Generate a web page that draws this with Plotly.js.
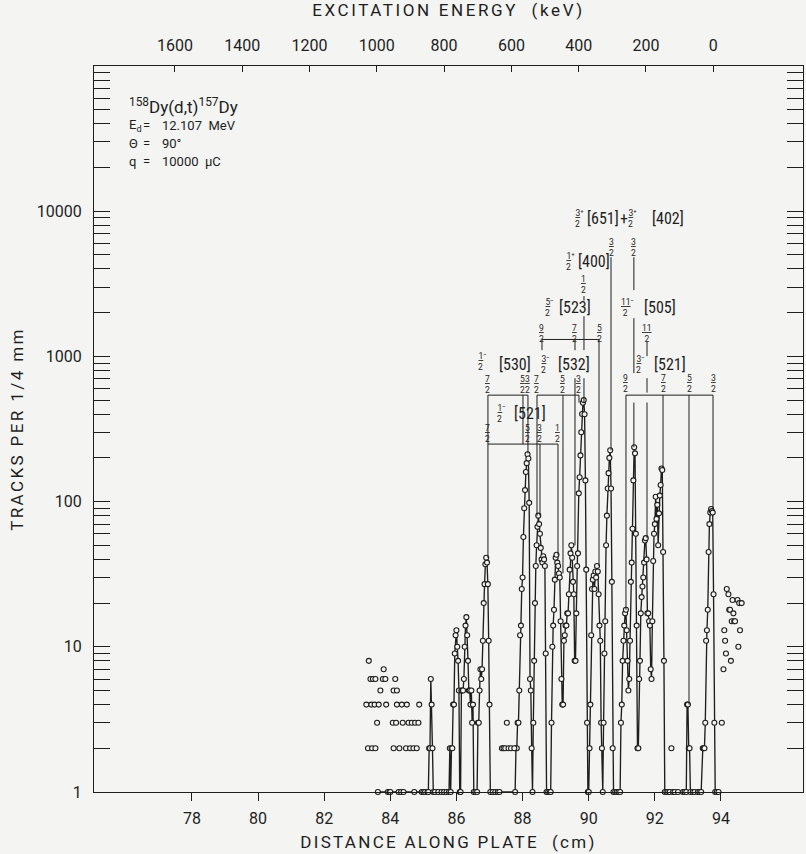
<!DOCTYPE html>
<html><head><meta charset="utf-8">
<script src="https://cdn.plot.ly/plotly-3.0.1.min.js"></script>
<style>html,body{margin:0;padding:0;background:#f4f4f2;} #chart{width:806px;height:854px;}</style>
</head><body><div id="chart"></div>
<script>
// ---------- DATA ----------
// main spectrum (channels joined by lines), distance along plate in cm / tracks per 1/4 mm
const plateCm = [
 83.625,83.925,83.975,84.0,84.25,84.325,84.4,84.725,84.95,85.0,85.05,85.125,
 85.15,85.175,85.2,85.225,85.25,85.275,85.3,
 85.35,85.45,85.55,85.625,85.7,85.775,
 85.8,85.825,85.85,85.875,85.9,85.925,85.95,85.975,86.0,86.025,86.05,86.075,86.1,86.125,
 86.15,86.175,86.2,86.225,86.25,86.275,86.3,86.325,86.35,86.375,86.4,86.425,86.45,86.475,86.5,86.525,
 86.575,86.625,
 86.65,86.675,86.7,86.725,86.75,86.775,86.8,86.825,86.85,86.875,86.9,86.925,86.95,86.975,87.0,87.025,
 87.1,87.175,87.25,87.3,87.775,
 87.8,87.825,87.85,87.875,87.9,87.925,87.95,87.975,88.0,88.025,88.05,88.075,88.1,88.125,88.15,88.175,88.2,88.225,88.25,88.275,
 88.3,88.325,88.35,88.375,88.4,88.425,88.45,88.475,88.5,88.525,88.55,88.575,88.6,88.625,88.65,88.675,88.7,88.725,
 88.775,88.825,
 88.85,88.875,88.9,88.925,88.95,88.975,89.0,89.025,89.05,89.075,89.1,89.125,89.15,89.175,89.2,89.225,
 89.25,89.275,89.3,89.325,89.35,89.375,89.4,89.425,89.45,89.475,89.5,89.525,89.55,89.575,
 89.6,89.625,89.65,89.675,89.7,89.725,89.75,89.775,89.8,89.825,89.85,89.875,89.9,89.925,89.95,89.975,
 90.0,90.025,90.05,90.075,90.1,90.125,90.15,90.175,90.2,90.225,90.25,90.275,90.3,90.325,90.35,90.375,90.4,90.425,
 90.45,90.475,90.5,90.525,90.55,90.575,90.6,90.625,90.65,90.675,90.7,90.725,90.75,
 90.8,90.85,90.9,
 90.95,90.975,91.0,91.025,91.05,91.075,91.1,91.125,91.15,91.175,91.2,
 91.225,91.25,91.275,91.3,91.325,91.35,91.375,91.4,91.425,91.45,91.475,
 91.5,91.525,91.55,91.575,91.6,91.625,91.65,91.675,91.7,91.725,91.75,91.775,
 91.8,91.825,91.85,91.875,91.9,
 91.925,91.95,91.975,92.0,92.025,92.05,92.075,92.1,92.125,92.15,92.175,92.2,92.225,92.25,92.275,92.3,
 92.35,92.4,92.45,92.55,92.6,92.7,92.85,92.9,
 92.95,92.975,93.0,93.025,93.05,93.075,
 93.15,93.2,93.3,93.35,93.4,
 93.45,93.475,93.5,93.525,93.55,93.575,93.6,93.625,93.65,93.675,93.7,93.725,93.75,93.775,93.8,93.825,
 93.875,93.925
];
const tracks = [
 1,1,1,1,1,1,1,1,1,1,1,1,
 1,2,2,6,4,2,1,
 1,1,1,1,1,1,
 2,1,2,2,4,4,9,12,13,10,8,5,1,1,
 5,5,5,6,10,14,16,12,8,5,5,4,5,3,4,1,
 1,1,
 3,3,5,7,6,7,11,20,27,37,41,38,27,11,4,1,
 1,1,1,1,1,
 2,2,3,3,5,12,14,25,30,57,90,120,160,184,212,198,98,6,5,2,
 1,3,8,20,36,50,67,80,70,60,48,40,38,42,40,36,9,1,
 1,1,
 1,3,10,14,18,29,41,43,38,36,32,30,15,6,4,4,
 11,12,14,14,17,17,23,34,44,50,41,28,23,8,
 8,17,36,44,114,147,208,300,401,480,500,400,140,34,3,1,
 1,2,4,12,25,29,31,25,33,30,36,33,23,14,11,3,2,1,
 3,9,15,50,80,123,157,200,226,123,28,2,1,
 1,1,1,
 1,3,4,8,11,14,17,18,13,8,5,
 6,11,28,38,65,140,237,215,60,14,2,
 2,6,8,17,22,26,30,38,54,56,40,17,
 17,15,14,7,6,
 15,39,60,70,108,76,95,50,83,110,130,169,165,45,8,1,
 1,1,1,1,1,1,1,1,
 1,4,4,2,2,1,
 1,1,1,1,1,
 2,2,2,3,11,13,18,45,70,84,89,86,84,23,3,1,
 1,1
];
// isolated channels (plotted as points only)
const bgLeftCm = [83.35,83.8,83.4,83.475,83.55,83.775,83.85,84.15,83.7,84.1,84.2,83.275,83.425,83.525,83.65,83.875,84.2,84.35,84.5,84.875,83.6,84.075,84.175,84.375,84.55,84.65,84.75,84.85,83.325,83.45,83.55,84.1,84.275,84.475,84.6,84.7,84.8];
const bgLeftTracks = [8,7,6,6,6,6,6,6,5,5,5,4,4,4,4,4,4,4,4,4,3,3,3,3,3,3,3,3,2,2,2,2,2,2,2,2,2];
const bgMidCm = [87.375,87.425,87.475,87.525,87.575,87.65,87.75,92.5];
const bgMidTracks = [2,2,2,3,2,2,2,2];
const bgRightCm = [94.025,94.075,94.1,94.125,94.15,94.175,94.225,94.25,94.275,94.3,94.325,94.35,94.375,94.4,94.425,94.5,94.55,94.625,94.575,94.525];
const bgRightTracks = [3,7,13,11,9,25,23,18,18,8,15,21,17,15,15,21,20,20,13,10];

const distTicks = [78,80,82,84,86,88,90,92,94];
const energyTicks = [1600,1400,1200,1000,800,600,400,200,0];
const trackTicks = [1,10,100,1000,10000];
const trackTickText = ['1','10','100','1000','10000'];

// ---------- STYLE / LAYOUT ----------
const FONT = 'Roboto, "Liberation Sans", sans-serif';
const NARROW = '"Liberation Sans Narrow", "Roboto Condensed", Roboto, sans-serif';
const INK = '#1e1e1e';
const BG = '#f4f4f2';

const minorVals = [];
for (let k = 0; k < 5; k++) for (let m = 2; m <= 9; m++) minorVals.push(m * Math.pow(10, k));

const mk = {symbol:'circle', size:5, color:BG, line:{color:INK, width:1.1}};

const traces = [
 {x:plateCm, y:tracks, mode:'lines+markers', line:{color:INK, width:1.35}, marker:mk, cliponaxis:false, hoverinfo:'skip'},
 {x:bgLeftCm, y:bgLeftTracks, mode:'markers', marker:mk, cliponaxis:false, hoverinfo:'skip'},
 {x:bgMidCm, y:bgMidTracks, mode:'markers', marker:mk, cliponaxis:false, hoverinfo:'skip'},
 {x:bgRightCm, y:bgRightTracks, mode:'markers', marker:mk, cliponaxis:false, hoverinfo:'skip'},
 {x:[0], y:[1], xaxis:'x2', mode:'markers', marker:{opacity:0}, hoverinfo:'skip'}
];

// level-scheme geometry (x in cm, y in tracks)
const vSegs = [
 [90.674,4820,226],
 [91.366,4820,2860],[91.366,1833,767],[91.366,481,237],
 [89.857,2600,2420],[89.857,1892,1104],[89.857,708,480],
 [88.587,1308,1104],
 [89.585,1308,1104],[89.585,708,50],
 [90.311,1308,36],
 [91.763,1267,1004],[91.763,708,563],[91.763,481,56],
 [86.953,541,41],[88.012,541,249],[88.163,541,215],[88.436,541,80],[89.222,541,32],[89.706,541,480],
 [88.526,249,80],[89.071,249,43],
 [91.127,541,18],[92.247,541,169],[93.033,541,4],[93.759,541,89]
];
const hBars = [
 [88.587,90.311,1308],
 [86.953,88.163,541],[88.436,89.706,541],
 [86.953,89.071,249],
 [91.127,93.759,541]
];
const shapes = [];
vSegs.forEach(s => shapes.push({type:'line', xref:'x', yref:'y', x0:s[0], x1:s[0], y0:s[1], y1:s[2], line:{color:INK, width:1}}));
hBars.forEach(s => shapes.push({type:'line', xref:'x', yref:'y', x0:s[0], x1:s[1], y0:s[2], y1:s[2], line:{color:INK, width:1}}));

// spin fractions (x cm, y log10)
const spins = [
 [90.674,3.752,'3','2'],[91.366,3.752,'3','2'],
 [89.857,3.498,'1','2'],
 [88.587,3.160,'9','2'],[89.585,3.160,'7','2'],[90.311,3.160,'5','2'],[91.763,3.160,'11','2'],
 [86.953,2.806,'7','2'],[88.012,2.806,'5','2'],[88.163,2.806,'3','2'],[88.436,2.806,'7','2'],[89.222,2.806,'5','2'],[89.706,2.806,'3','2'],
 [91.127,2.816,'9','2'],[92.247,2.816,'7','2'],[93.033,2.816,'5','2'],[93.759,2.816,'3','2'],
 [86.953,2.472,'7','2'],[88.163,2.472,'5','2'],[88.526,2.472,'3','2'],[89.071,2.472,'1','2']
];
// band heads: fraction + sign, then Nilsson label
const bandFracs = [
 [89.715,3.952,'3','2','⁺'],[91.330,3.952,'3','2','⁺'],
 [89.440,3.655,'1','2','⁺'],
 [88.799,3.339,'5','2','⁻'],[91.167,3.339,'11','2','⁻'],
 [86.800,2.962,'1','2','⁻'],[88.708,2.947,'3','2','⁻'],[91.581,2.947,'3','2','⁻'],
 [87.368,2.609,'1','2','⁻']
];
const bandTexts = [
 [90.443,3.952,'[651]'],[91.076,3.952,'+'],[92.392,3.952,'[402]'],
 [90.150,3.655,'[400]'],
 [89.575,3.339,'[523]'],[92.146,3.339,'[505]'],
 [87.770,2.947,'[530]'],[89.540,2.947,'[532]'],[92.468,2.947,'[521]'],
 [88.239,2.609,'[521]']
];
const annotations = [];
spins.forEach(s => annotations.push({x:s[0], y:s[1], xref:'x', yref:'y', showarrow:false, xanchor:'center', yanchor:'middle',
  text:'<u>'+s[2]+'</u><br>'+s[3], font:{size:8.5, color:INK, family:FONT}}));
bandFracs.forEach(s => annotations.push({x:s[0], y:s[1], xref:'x', yref:'y', showarrow:false, xanchor:'center', yanchor:'middle',
  text:'<u>'+s[2]+'</u>'+s[4]+'<br>'+s[3]+'  ', font:{size:8.5, color:INK, family:FONT}}));
bandTexts.forEach(s => annotations.push({x:s[0], y:s[1], xref:'x', yref:'y', showarrow:false, xanchor:'center', yanchor:'middle',
  text:s[2], font:{size:16, color:INK, family:NARROW}}));

// reaction info block (top-left)
annotations.push({x:76.03, y:4.723, xref:'x', yref:'y', showarrow:false, xanchor:'left', yanchor:'middle',
  text:'<sup>158</sup>Dy(d,t)<sup>157</sup>Dy', font:{size:17, color:INK, family:FONT}});
const infoRows = [[4.592,'E<sub>d</sub>','12.107  MeV'],[4.468,'Θ','90°'],[4.344,'q','10000  μC']];
infoRows.forEach(r => {
 annotations.push({x:76.03, y:r[0], xref:'x', yref:'y', showarrow:false, xanchor:'left', yanchor:'middle', text:r[1], font:{size:13, color:INK, family:FONT}});
 annotations.push({x:76.64, y:r[0], xref:'x', yref:'y', showarrow:false, xanchor:'center', yanchor:'middle', text:'=', font:{size:13, color:INK, family:FONT}});
 annotations.push({x:77.03, y:r[0], xref:'x', yref:'y', showarrow:false, xanchor:'left', yanchor:'middle', text:r[2], font:{size:13, color:INK, family:FONT}});
});

const ls = (s, px) => '<span style="letter-spacing:' + px + 'px">' + s + '</span>';

const layout = {
 width:806, height:854,
 paper_bgcolor:BG, plot_bgcolor:BG,
 margin:{l:94, r:3, t:66, b:62},
 showlegend:false, hovermode:false,
 font:{family:FONT, color:INK, size:16},
 xaxis:{range:[75.04,96.48], tickmode:'array', tickvals:distTicks, ticks:'outside', ticklen:8, tickwidth:1, tickcolor:INK,
  showline:true, linecolor:INK, linewidth:1, showgrid:false, zeroline:false, tickfont:{size:16}, ticklabelstandoff:4,
  title:{text:ls('DISTANCE ALONG PLATE  (cm)', 2.3), font:{size:17}, standoff:8}},
 xaxis2:{overlaying:'x', anchor:'y', side:'top', range:[1840.4,-266.6], tickmode:'array', tickvals:energyTicks,
  ticks:'inside', ticklen:6, tickwidth:1, tickcolor:INK, showline:true, linecolor:INK, linewidth:1, showgrid:false, zeroline:false,
  tickfont:{size:16}, ticklabelstandoff:8, title:{text:ls('EXCITATION ENERGY  (keV)', 2.6), font:{size:17}, standoff:17}},
 yaxis:{type:'log', range:[0,5], tickmode:'array', tickvals:trackTicks, ticktext:trackTickText, ticks:'inside', ticklen:16, tickwidth:1, tickcolor:INK,
  mirror:'allticks', showline:true, linecolor:INK, linewidth:1, showgrid:false, zeroline:false, tickfont:{size:16}, ticklabelstandoff:8,
  minor:{tickmode:'array', tickvals:minorVals, ticks:'inside', ticklen:7, tickwidth:1, tickcolor:INK, showgrid:false},
  title:{text:ls('TRACKS PER 1/4 mm', 2.4), font:{size:17}, standoff:8}},
 shapes:shapes,
 annotations:annotations
};

Plotly.newPlot('chart', traces, layout, {staticPlot:true, displayModeBar:false});
</script></body></html>
